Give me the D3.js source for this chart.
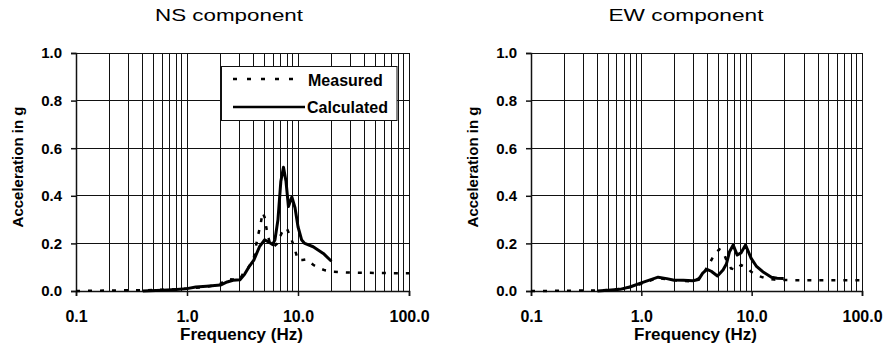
<!DOCTYPE html>
<html>
<head>
<meta charset="utf-8">
<script src="https://cdn.jsdelivr.net/npm/d3@7"></script>
<style>
  html, body { margin: 0; padding: 0; background: #fff; }
  svg { display: block; }
  text { font-family: "Liberation Sans", Arial, sans-serif; fill: #000; }
</style>
</head>
<body>
<svg id="chart" width="889" height="350"></svg>
<script>
// ---------- data ----------
const freqTickValues = [0.1, 1, 10, 100];
const freqTickLabels = ["0.1", "1.0", "10.0", "100.0"];
const accTickValues = [0, 0.2, 0.4, 0.6, 0.8, 1.0];
const accTickLabels = ["0.0", "0.2", "0.4", "0.6", "0.8", "1.0"];
const panelTitles = ["NS component", "EW component"];
const seriesNames = ["Measured", "Calculated"];

const nsMeasuredFreq = [0.1,0.2,0.3,0.4,0.5,0.7,1.0,1.3,1.6,2.0,2.3,2.6,3.0,3.3,3.6,4.0,4.3,4.6,4.8,5.0,5.3,5.6,6.0,6.5,7.1,7.5,7.9,8.5,9.0,9.5,10.0,11.0,12.0,13.7,15.8,17.5,20.5,27,35,50,70,100];
const nsMeasuredAcc  = [0,0.002,0.003,0.003,0.004,0.006,0.01,0.015,0.02,0.03,0.05,0.048,0.05,0.085,0.1,0.14,0.22,0.28,0.33,0.31,0.24,0.2,0.185,0.2,0.242,0.26,0.265,0.23,0.2,0.165,0.13,0.13,0.133,0.11,0.095,0.087,0.081,0.078,0.077,0.076,0.075,0.075];

const nsCalcFreq = [0.4,0.6,0.8,1.0,1.2,1.5,2.0,2.3,2.6,3.0,3.3,3.6,4.0,4.5,5.0,5.5,5.9,6.2,6.6,7.0,7.4,7.8,8.2,8.8,9.4,10.0,10.8,11.5,13.7,16.9,20.0];
const nsCalcAcc  = [0.0,0.003,0.006,0.01,0.017,0.02,0.025,0.038,0.045,0.047,0.07,0.1,0.13,0.186,0.215,0.205,0.195,0.215,0.3,0.46,0.52,0.46,0.355,0.395,0.35,0.27,0.214,0.2,0.186,0.158,0.125];

const ewMeasuredFreq = [0.1,0.2,0.3,0.4,0.5,0.7,1.0,1.4,2.0,2.5,3.0,3.5,4.2,4.6,5.1,5.5,5.9,6.5,7.2,8.0,8.8,9.9,11,13.4,16,20,30,50,70,100];
const ewMeasuredAcc  = [0,0.001,0.002,0.002,0.004,0.01,0.03,0.055,0.045,0.042,0.04,0.06,0.12,0.155,0.175,0.165,0.13,0.095,0.088,0.109,0.1,0.081,0.067,0.053,0.048,0.046,0.045,0.045,0.045,0.045];

const ewCalcFreq = [0.4,0.5,0.64,0.8,0.97,1.2,1.42,1.7,1.94,2.4,2.93,3.3,3.6,3.94,4.3,4.9,5.5,5.9,6.3,6.8,7.4,8.0,8.8,9.9,11.0,12.6,15.1,17,19.5];
const ewCalcAcc  = [0.0,0.003,0.007,0.018,0.032,0.047,0.058,0.052,0.046,0.045,0.043,0.048,0.075,0.091,0.083,0.063,0.088,0.113,0.165,0.193,0.151,0.16,0.193,0.137,0.105,0.081,0.058,0.054,0.053];

// ---------- layout ----------
const svg = d3.select("#chart");
const panels = [
  { left: 76, right: 409, title: panelTitles[0], titleX: 229, titleW: 148,
    measured: d3.zip(nsMeasuredFreq, nsMeasuredAcc), calc: d3.zip(nsCalcFreq, nsCalcAcc), legend: true },
  { left: 531, right: 862, title: panelTitles[1], titleX: 686, titleW: 155,
    measured: d3.zip(ewMeasuredFreq, ewMeasuredAcc), calc: d3.zip(ewCalcFreq, ewCalcAcc), legend: false }
];
const plotTop = 53, plotBottom = 291;

// minor grid values 0.1..100
const gridFreqs = [];
for (let dec = 0.1; dec < 100; dec *= 10) for (let k = 1; k < 10; k++) gridFreqs.push(+(k * dec).toPrecision(3));
gridFreqs.push(100);

panels.forEach(p => {
  const x = d3.scaleLog().domain([0.1, 100]).range([p.left, p.right]);
  const y = d3.scaleLinear().domain([0, 1]).range([plotBottom, plotTop]);
  const g = svg.append("g");

  // grid
  g.append("g").selectAll("line").data(gridFreqs).join("line")
    .attr("x1", d => x(d)).attr("x2", d => x(d))
    .attr("y1", plotTop).attr("y2", plotBottom)
    .attr("stroke", "#111").attr("stroke-width", 1).attr("shape-rendering", "crispEdges");
  g.append("g").selectAll("line").data(accTickValues).join("line")
    .attr("x1", p.left).attr("x2", p.right)
    .attr("y1", d => y(d)).attr("y2", d => y(d))
    .attr("stroke", "#111").attr("stroke-width", 1).attr("shape-rendering", "crispEdges");

  // axes
  const xa = g.append("g").attr("transform", `translate(0,${plotBottom})`)
    .call(d3.axisBottom(x).tickValues(freqTickValues)
      .tickFormat((d, i) => freqTickLabels[i]).tickSize(5).tickPadding(15));
  const ya = g.append("g").attr("transform", `translate(${p.left},0)`)
    .call(d3.axisLeft(y).tickValues(accTickValues)
      .tickFormat((d, i) => accTickLabels[i]).tickSize(5).tickPadding(9));
  [xa, ya].forEach(a => {
    a.select(".domain").attr("stroke", "#111").attr("stroke-width", 1.5);
    a.selectAll(".tick line").attr("stroke", "#111").attr("stroke-width", 1.5);
    a.selectAll("text").attr("font-family", "Liberation Sans, Arial, sans-serif")
      .attr("font-weight", "bold").attr("fill", "#000");
  });
  xa.selectAll("text").attr("font-size", 16);
  ya.selectAll("text").attr("font-size", 15);

  // titles
  svg.append("text").attr("x", p.titleX).attr("y", 21)
    .attr("text-anchor", "middle").attr("font-size", 17)
    .attr("textLength", p.titleW).attr("lengthAdjust", "spacingAndGlyphs")
    .text(p.title);
  svg.append("text").attr("x", (p.left + p.right) / 2 - 1).attr("y", 340)
    .attr("text-anchor", "middle").attr("font-size", 17).attr("font-weight", "bold")
    .text("Frequency (Hz)");
  svg.append("text").attr("transform", `translate(${p.left - 53},${(plotTop + plotBottom) / 2 - 5}) rotate(-90)`)
    .attr("text-anchor", "middle").attr("font-size", 15).attr("font-weight", "bold")
    .text("Acceleration in g");

  const line = d3.line().x(d => x(d[0])).y(d => y(d[1]));
  g.append("path").datum(p.calc).attr("d", line)
    .attr("fill", "none").attr("stroke", "#000").attr("stroke-width", 3)
    .attr("stroke-linejoin", "round");
  g.append("path").datum(p.measured).attr("d", line)
    .attr("fill", "none").attr("stroke", "#000").attr("stroke-width", 2.5)
    .attr("stroke-dasharray", "4,8");

  if (p.legend) {
    const lg = svg.append("g");
    lg.append("rect").attr("x", 221.5).attr("y", 66.5).attr("width", 175.5).attr("height", 54)
      .attr("fill", "#fff").attr("stroke", "#111").attr("stroke-width", 1);
    lg.append("line").attr("x1", 233).attr("x2", 295).attr("y1", 79).attr("y2", 79)
      .attr("stroke", "#000").attr("stroke-width", 2.5).attr("stroke-dasharray", "4,10");
    lg.append("line").attr("x1", 233).attr("x2", 305).attr("y1", 107).attr("y2", 107)
      .attr("stroke", "#000").attr("stroke-width", 2.5);
    lg.append("text").attr("x", 308).attr("y", 86).attr("font-size", 16).attr("font-weight", "bold").text(seriesNames[0]);
    lg.append("text").attr("x", 307).attr("y", 113).attr("font-size", 16).attr("font-weight", "bold").text(seriesNames[1]);
  }
});
</script>
</body>
</html>
